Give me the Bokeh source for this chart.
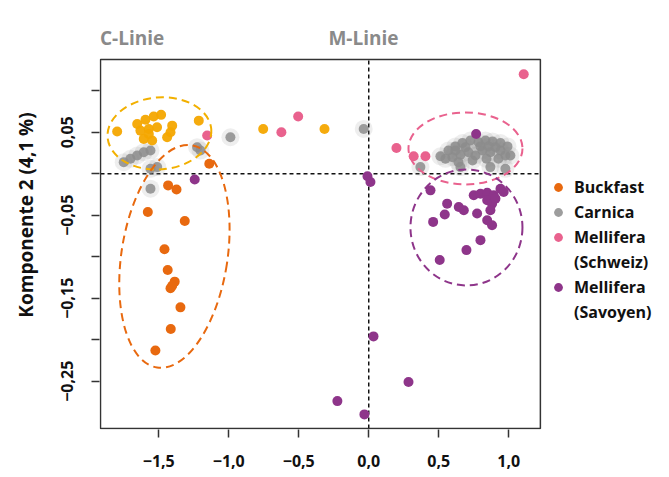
from bokeh.plotting import figure
from bokeh.models import (Range1d, FixedTicker, Label, Legend, LegendItem)
from bokeh.embed import file_html
from bokeh.resources import INLINE

# ---------------- data (PCA scores) ----------------
buckfast_x = [-1.139, -1.433, -1.373, -1.578, -1.314, -1.459, -1.436, -1.386,
              -1.416, -1.404, -1.345, -1.414, -1.524]
buckfast_y = [0.012, -0.014, -0.019, -0.046, -0.057, -0.091, -0.116, -0.130,
              -0.138, -0.135, -0.161, -0.187, -0.213]

gold_x = [-1.797, -1.654, -1.595, -1.536, -1.483, -1.631, -1.571, -1.512, -1.607,
          -1.547, -1.571, -1.404, -1.416, -1.440, -1.214, -0.754, -0.316]
gold_y = [0.051, 0.060, 0.065, 0.069, 0.071, 0.052, 0.054, 0.056, 0.042,
          0.040, 0.048, 0.058, 0.050, 0.044, 0.064, 0.054, 0.054]

carnica_x = [-1.702, -1.654, -1.607, -1.559, -1.750, -1.511, -1.559, -1.202,
             -1.226, -0.988, -1.559, -0.036,
             0.512, 0.569, 0.619, 0.669, 0.726, 0.784, 0.834, 0.884, 0.941,
             0.991, 0.976, 0.926, 0.869, 0.812, 0.762, 0.712, 0.655, 0.598,
             0.548, 0.941, 1.012, 0.841, 0.741, 0.641, 0.905, 0.691, 0.798,
             0.855, 0.619, 0.369, 0.655, 0.869, 0.976]
carnica_y = [0.018, 0.022, 0.026, 0.028, 0.014, 0.008, 0.006, 0.028,
             0.032, 0.044, -0.018, 0.054,
             0.021, 0.028, 0.033, 0.037, 0.040, 0.038, 0.040, 0.039, 0.037,
             0.033, 0.022, 0.018, 0.026, 0.028, 0.022, 0.026, 0.023, 0.020,
             0.018, 0.028, 0.022, 0.018, 0.016, 0.014, 0.032, 0.032, 0.033,
             0.033, 0.028, 0.008, 0.008, 0.008, 0.006]

schweiz_x = [1.107, 0.198, 0.321, 0.405, -0.504, -0.624, -1.154]
schweiz_y = [0.120, 0.031, 0.021, 0.021, 0.069, 0.050, 0.046]

savoyen_x = [0.767, 0.441, 0.750, 0.798, 0.846, 0.893, 0.941, 0.964, 0.560,
             0.643, 0.679, 0.543, 0.774, 0.846, 0.881, 0.905, 0.869, 0.846,
             0.881, 0.460, 0.798, 0.698, 0.507, -1.243, -0.009, 0.012, 0.034,
             0.284, -0.224, -0.031]
savoyen_y = [0.048, -0.020, -0.026, -0.024, -0.023, -0.026, -0.018, -0.022, -0.036,
             -0.040, -0.044, -0.049, -0.048, -0.032, -0.036, -0.030, -0.044, -0.056,
             -0.062, -0.058, -0.080, -0.092, -0.104, -0.007, -0.003, -0.010, -0.196,
             -0.251, -0.274, -0.290]

# group ellipses (centre in data units)
ell_x = [-1.495, -1.388, 0.691, 0.698]
ell_y = [0.0486, -0.0996, 0.0305, -0.0647]

# plotting box (axis limits of the original chart)
box_x = [-1.916, 1.226]
box_y = [-0.307, 0.1377]

group_names = ["C-Linie", "M-Linie"]
group_x = [-1.69, -0.038]
group_y = [0.164, 0.164]

x_tick_values = [-1.5, -1.0, -0.5, 0.0, 0.5, 1.0]
x_tick_labels = ["\u22121,5", "\u22121,0", "\u22120,5", "0,0", "0,5", "1,0"]
y_tick_values = [0.10, 0.05, 0.0, -0.05, -0.10, -0.15, -0.20, -0.25]
y_tick_labels = ["", "0,05", "", "\u22120,05", "", "\u22120,15", "", "\u22120,25"]

legend_labels = ["Buckfast", "Carnica", "Mellifera", "(Schweiz)", "Mellifera", "(Savoyen)"]

y_label = "Komponente 2 (4,1 %)"

# ---------------- styling ----------------
C_ORANGE = "#e8690f"
C_GOLD = "#f4a700"
C_GRAY = "#8c8c8c"
C_PINK = "#e9628e"
C_PURPLE = "#8e358a"
C_FRAME = "#333333"
FONT = "Open Sans"

# the frame spans the whole area right of / above the axes so that the
# legend and the group titles (outside the drawn box) stay visible
p = figure(width=669, height=477, output_backend="svg", toolbar_location=None,
           x_range=Range1d(-1.92314, 2.14829), y_range=Range1d(-0.3082, 0.2088),
           min_border_left=99, min_border_right=0, min_border_top=0,
           min_border_bottom=48)
p.background_fill_color = "white"
p.border_fill_color = "white"
p.outline_line_color = None
p.xgrid.visible = False
p.ygrid.visible = False

for ax in (p.xaxis[0], p.yaxis[0]):
    ax.axis_line_color = None
    ax.major_tick_in = 0
    ax.major_tick_out = 8
    ax.major_tick_line_color = C_FRAME
    ax.major_tick_line_width = 1.5
    ax.minor_tick_line_color = None
    ax.major_label_text_font = FONT
    ax.major_label_text_font_style = "bold"
    ax.major_label_text_font_size = "16px"
    ax.major_label_text_color = "#111111"

p.xaxis[0].ticker = FixedTicker(ticks=x_tick_values)
p.xaxis[0].major_label_overrides = dict(zip(x_tick_values, x_tick_labels))
p.xaxis[0].major_label_standoff = 17

p.yaxis[0].ticker = FixedTicker(ticks=y_tick_values)
p.yaxis[0].major_label_overrides = dict(zip(y_tick_values, y_tick_labels))
p.yaxis[0].major_label_orientation = "vertical"
p.yaxis[0].major_label_standoff = 18
p.yaxis[0].axis_label = y_label
p.yaxis[0].axis_label_text_font = FONT
p.yaxis[0].axis_label_text_font_style = "bold"
p.yaxis[0].axis_label_text_font_size = "19px"
p.yaxis[0].axis_label_text_color = "#111111"
p.yaxis[0].axis_label_standoff = 20

# zero lines inside the box
p.line(box_x, [0, 0], line_color="#111111", line_width=1.5, line_dash="4 3")
p.line([0, 0], box_y, line_color="#111111", line_width=1.5, line_dash="4 3")

# points
p.scatter(carnica_x, carnica_y, size=18, fill_color=C_GRAY, fill_alpha=0.15,
          line_color=None)
r_carn = p.scatter(carnica_x, carnica_y, size=10, fill_color=C_GRAY,
                   fill_alpha=0.85, line_color=None)
p.scatter(gold_x, gold_y, size=10, fill_color=C_GOLD, line_color=None, fill_alpha=0.95)
r_buck = p.scatter(buckfast_x, buckfast_y, size=10, fill_color=C_ORANGE, line_color=None)
r_schw = p.scatter(schweiz_x, schweiz_y, size=10, fill_color=C_PINK, line_color=None)
r_savo = p.scatter(savoyen_x, savoyen_y, size=10, fill_color=C_PURPLE, line_color=None)

# dashed group ellipses (sizes in screen px)
p.ellipse(ell_x[0:1], ell_y[0:1], width=104, height=72, angle=0.08,
          width_units="screen", height_units="screen", fill_alpha=0,
          line_color="#f2b000", line_width=2, line_dash="8 5")
p.ellipse(ell_x[1:2], ell_y[1:2], width=106, height=225, angle=-0.155,
          width_units="screen", height_units="screen", fill_alpha=0,
          line_color=C_ORANGE, line_width=2, line_dash="8 5")
p.ellipse(ell_x[2:3], ell_y[2:3], width=114, height=72, angle=0.0,
          width_units="screen", height_units="screen", fill_alpha=0,
          line_color=C_PINK, line_width=2, line_dash="8 5")
p.ellipse(ell_x[3:4], ell_y[3:4], width=112, height=116, angle=0.0,
          width_units="screen", height_units="screen", fill_alpha=0,
          line_color=C_PURPLE, line_width=2, line_dash="8 5")

# box outline
p.quad(left=[box_x[0]], right=[box_x[1]], bottom=[box_y[0]], top=[box_y[1]],
       fill_color=None, line_color=C_FRAME, line_width=1.5)

# group titles
for name, gx, gy in zip(group_names, group_x, group_y):
    p.add_layout(Label(x=gx, y=gy, text=name, text_align="center",
                       text_baseline="middle", text_font=FONT,
                       text_font_style="bold", text_font_size="19px",
                       text_color="#8a8a8a"))

# legend (second lines via invisible dummy renderers)
dummy = p.scatter([], [], size=1, fill_alpha=0, line_alpha=0)
leg_renderers = [r_buck, r_carn, r_schw, dummy, r_savo, dummy]
legend = Legend(items=[LegendItem(label=l, renderers=[r])
                       for l, r in zip(legend_labels, leg_renderers)],
                location=(448, 106), orientation="vertical",
                padding=0, margin=0, spacing=3, glyph_width=22, glyph_height=22,
                label_height=22, label_standoff=5,
                label_text_font=FONT, label_text_font_style="bold",
                label_text_font_size="16px", label_text_color="#111111",
                background_fill_alpha=0, border_line_color=None)
p.add_layout(legend)

open("out.html", "w").write(file_html(p, INLINE))
